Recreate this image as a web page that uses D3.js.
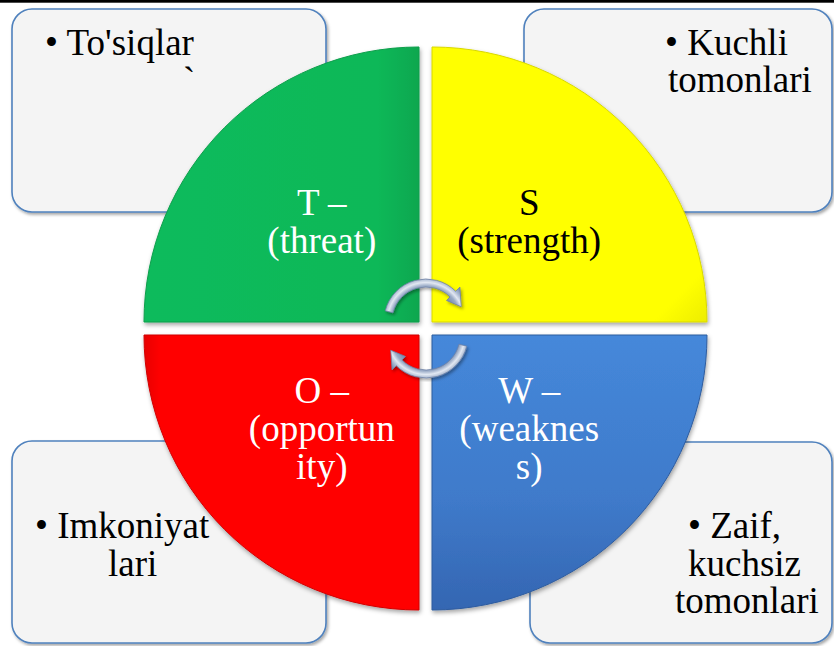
<!DOCTYPE html>
<html><head><meta charset="utf-8">
<script src="https://cdn.jsdelivr.net/npm/d3@7/dist/d3.min.js"></script>
<style>html,body{margin:0;padding:0;background:#fff;}svg{display:block;}</style>
</head><body>
<script>
// ---- data ----
const quadrantKeys = ["T", "S", "W", "O"];
const quadrantNames = ["threat", "strength", "weakness", "opportunity"];
const quadrantWeights = [1, 1, 1, 1];
const quadrantLabelLines = [["T \u2013", "(threat)"], ["S", "(strength)"], ["W \u2013", "(weaknes", "s)"], ["O \u2013", "(opportun", "ity)"]];
const quadrantTextColors = ["#ffffff", "#000000", "#ffffff", "#ffffff"];
const boxTexts = [["\u2022 To'siqlar", "`"], ["\u2022 Kuchli", "tomonlari"], ["\u2022 Zaif,", "kuchsiz", "tomonlari"], ["\u2022 Imkoniyat", "lari"]];

// ---- layout ----
const W = 834, H = 646;
const cx = 425.5, cy = 328.5, R = 275, explode = 9.2;
const boxes = [
  {x: 12, y: 9, w: 314, h: 203, lines: [[45, 55], [183, 93]]},
  {x: 524, y: 9, w: 308, h: 203, lines: [[665, 55], [668, 92]]},
  {x: 530, y: 442, w: 302, h: 201, lines: [[688, 538], [688, 576], [675, 613]]},
  {x: 12, y: 441, w: 314, h: 202, lines: [[35, 538], [108, 576]]}
];
const font = "'Liberation Serif','Times New Roman',serif";

const svg = d3.select("body").append("svg").attr("width", W).attr("height", H);
const defs = svg.append("defs");

const fb = defs.append("filter").attr("id", "boxShadow").attr("x", "-10%").attr("y", "-10%").attr("width", "120%").attr("height", "120%");
fb.append("feDropShadow").attr("dx", 1.5).attr("dy", 2).attr("stdDeviation", 1.5).attr("flood-color", "#000").attr("flood-opacity", 0.35);
const fq = defs.append("filter").attr("id", "qShadow").attr("x", "-10%").attr("y", "-10%").attr("width", "120%").attr("height", "120%");
fq.append("feDropShadow").attr("dx", 1).attr("dy", 2.5).attr("stdDeviation", 2).attr("flood-color", "#000").attr("flood-opacity", 0.35);

function lin(id, x1, y1, x2, y2, stops) {
  const g = defs.append("linearGradient").attr("id", id).attr("x1", x1).attr("y1", y1).attr("x2", x2).attr("y2", y2);
  stops.forEach(s => g.append("stop").attr("offset", s[0]).attr("stop-color", s[1]));
}
lin("gT", "0", "0", "1", "0", [["0", "#0EBB5C"], ["0.85", "#0CB858"], ["1", "#0AA74F"]]);
lin("gS", "0", "0", "1", "1", [["0", "#FFFF00"], ["0.9", "#FFFF00"], ["1", "#EDED00"]]);
lin("gW", "0", "0", "0", "1", [["0", "#4588DA"], ["0.6", "#3F7ACA"], ["1", "#3466B2"]]);
lin("gO", "0", "0", "1", "0", [["0", "#E80000"], ["0.06", "#FF0000"], ["1", "#FF0000"]]);
const fills = ["url(#gT)", "url(#gS)", "url(#gW)", "url(#gO)"];
const strokes = ["#0A9E4B", "#D8D800", "#2E5C9E", "#D00000"];

// top black line
svg.append("rect").attr("x", 0).attr("y", 0).attr("width", W).attr("height", 2.7).attr("fill", "#000");

// boxes
const bg = svg.append("g");
bg.selectAll("rect").data(boxes).join("rect")
  .attr("x", d => d.x).attr("y", d => d.y).attr("width", d => d.w).attr("height", d => d.h)
  .attr("rx", 20).attr("ry", 20)
  .attr("fill", "#F4F4F4").attr("stroke", "#4F81BD").attr("stroke-width", 1.6)
  .attr("filter", "url(#boxShadow)");
boxes.forEach((b, i) => {
  boxTexts[i].forEach((t, j) => {
    bg.append("text").attr("x", b.lines[j][0]).attr("y", b.lines[j][1])
      .attr("font-family", font).attr("font-size", 37).attr("fill", "#000").text(t);
  });
});

// quadrants via pie + arc
const pie = d3.pie().sort(null).startAngle(-Math.PI / 2).endAngle(Math.PI * 1.5);
const arcs = pie(quadrantWeights);
const arc = d3.arc().innerRadius(0).outerRadius(R);
const qg = svg.append("g");
arcs.forEach((a, i) => {
  const mid = (a.startAngle + a.endAngle) / 2;
  const ox = cx + Math.sin(mid) * explode, oy = cy - Math.cos(mid) * explode;
  const g = qg.append("g").attr("transform", `translate(${ox},${oy})`);
  g.append("path").attr("d", arc(a)).attr("fill", fills[i])
    .attr("stroke", strokes[i]).attr("stroke-width", 1).attr("filter", "url(#qShadow)");
  const c = arc.centroid(a);
  const lines = quadrantLabelLines[i];
  const first = c[1] + 9 - (lines.length - 1) * 19;
  lines.forEach((t, j) => {
    g.append("text").attr("x", c[0]).attr("y", first + j * 38)
      .attr("text-anchor", "middle").attr("font-family", font).attr("font-size", 37)
      .attr("fill", quadrantTextColors[i]).text(t);
  });
});

// circular arrows
const deg = Math.PI / 180;
function arrowPath(acx, acy, a0, a1, aTip, ri, ro, hi, ho) {
  const P = (r, a) => [acx + r * Math.sin(a), acy - r * Math.cos(a)];
  const p = d3.path();
  let q = P(ro, a0); p.moveTo(q[0], q[1]);
  p.arc(acx, acy, ro, a0 - Math.PI / 2, a1 - Math.PI / 2, false);
  q = P(ho, a1); p.lineTo(q[0], q[1]);
  q = P((ri + ro) / 2, aTip); p.lineTo(q[0], q[1]);
  q = P(hi, a1); p.lineTo(q[0], q[1]);
  q = P(ri, a1); p.lineTo(q[0], q[1]);
  p.arc(acx, acy, ri, a1 - Math.PI / 2, a0 - Math.PI / 2, true);
  p.closePath();
  return p.toString();
}
const arrowSpecs = [
  {id: "arT", x: 426, y: 321, a0: -76, a1: 45, tip: 68},
  {id: "arB", x: 426, y: 336, a0: 104, a1: 225, tip: 248}
];
arrowSpecs.forEach(s => {
  const rg = defs.append("radialGradient").attr("id", s.id).attr("gradientUnits", "userSpaceOnUse")
    .attr("cx", s.x).attr("cy", s.y).attr("r", 50);
  [["0.62", "#7F92B4"], ["0.70", "#9AABC7"], ["0.77", "#E2E8F2"], ["0.84", "#A9B8D0"], ["0.92", "#7D90B2"]]
    .forEach(st => rg.append("stop").attr("offset", st[0]).attr("stop-color", st[1]));
  svg.append("path").attr("d", arrowPath(s.x, s.y, s.a0 * deg, s.a1 * deg, s.tip * deg, 34, 42, 29, 48))
    .attr("fill", `url(#${s.id})`).attr("stroke", "#6E82A6").attr("stroke-width", 0.8)
    .attr("filter", "url(#boxShadow)");
});
</script>
</body></html>
